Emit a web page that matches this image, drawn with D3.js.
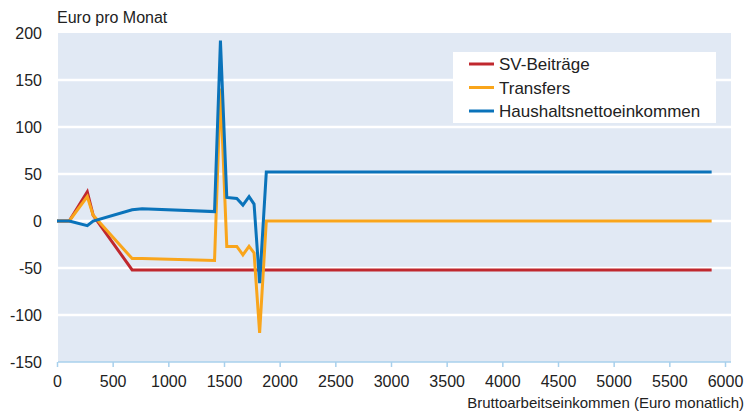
<!DOCTYPE html>
<html>
<head>
<meta charset="utf-8">
<script src="https://cdn.jsdelivr.net/npm/d3@7"></script>
<style>
  body { margin: 0; background: #fff; }
  text { font-family: "Liberation Sans", Arial, sans-serif; fill: #222; }
</style>
</head>
<body>
<svg width="746" height="412"></svg>
<script>
// Bruttoeinkommen (Euro monatlich)
var brutto = [0, 110, 272, 325, 675, 765, 1415, 1468, 1525, 1615, 1670, 1725, 1770, 1820, 1880, 5880];
var svBeitraege = [0, 0, 31, 6, -52, -52, -52, -52, -52, -52, -52, -52, -52, -52, -52, -52];
var transfers = [0, 0, 26, 6, -40, -40, -42, 141, -27, -27, -36, -27, -34, -119, 0, 0];
var netto = [0, 0, -5, 0, 12, 13, 10, 192, 25, 24, 17, 26, 18, -66, 52, 52];

var seriesNames = ['SV-Beiträge', 'Transfers', 'Haushaltsnettoeinkommen'];
var seriesColors = ['#c0282e', '#f9a51b', '#0a73ba'];
var xTicks = [0, 500, 1000, 1500, 2000, 2500, 3000, 3500, 4000, 4500, 5000, 5500, 6000];
var yTicks = [-150, -100, -50, 0, 50, 100, 150, 200];

var svg = d3.select('svg');

var plotLeft = 58, plotRight = 731, plotTop = 33, plotBottom = 362;

var x = d3.scaleLinear().domain([0, 6000]).range([57, 725]);
var y = d3.scaleLinear().domain([-150, 200]).range([plotBottom, plotTop]);

// background
svg.append('rect')
    .attr('x', plotLeft)
    .attr('y', plotTop)
    .attr('width', plotRight - plotLeft)
    .attr('height', plotBottom - plotTop)
    .attr('fill', '#e1e9f4');

// grid
svg.selectAll('.grid')
    .data(yTicks.filter(function(d){ return d > -150 && d < 200 }))
    .enter()
    .append('line')
    .attr('x1', plotLeft)
    .attr('x2', plotRight)
    .attr('y1', function(d){ return y(d) })
    .attr('y2', function(d){ return y(d) })
    .attr('stroke', '#fff')
    .attr('stroke-width', 2.5);

// x axis
var xAxis = svg.append('g')
    .attr('transform', 'translate(0,' + plotBottom + ')')
    .call(d3.axisBottom(x).tickValues(xTicks).tickSize(5).tickPadding(9).tickFormat(d3.format('d')));
xAxis.select('.domain').attr('stroke', '#a8d0ec').attr('stroke-width', 1.5)
    .attr('d', 'M' + plotLeft + ',0H' + plotRight);
xAxis.selectAll('.tick line').attr('stroke', '#a8d0ec').attr('stroke-width', 1.5);
xAxis.selectAll('text').style('font-size', '16px').attr('fill', '#222')
    .style('font-family', '"Liberation Sans", Arial, sans-serif');

// y axis
var yAxis = svg.append('g')
    .attr('transform', 'translate(' + plotLeft + ',0)')
    .call(d3.axisLeft(y).tickValues(yTicks).tickSize(0).tickPadding(16)
        .tickFormat(function(d){ return String(d) }));
yAxis.select('.domain').remove();
yAxis.selectAll('text').style('font-size', '16px').attr('fill', '#222')
    .style('font-family', '"Liberation Sans", Arial, sans-serif');

var allSeries = [svBeitraege, transfers, netto];

var line = d3.line()
    .x(function(d, i){ return x(brutto[i]) })
    .y(function(d){ return y(d) });

svg.selectAll('.series')
    .data(allSeries)
    .enter()
    .append('path')
    .attr('d', function(d){ return line(d) })
    .attr('fill', 'none')
    .attr('stroke', function(d, i){ return seriesColors[i] })
    .attr('stroke-width', 3)
    .attr('stroke-linejoin', 'miter');

// legend
var legend = svg.append('g');
legend.append('rect')
    .attr('x', 453)
    .attr('y', 52)
    .attr('width', 263)
    .attr('height', 71)
    .attr('fill', '#fff');

var rows = legend.selectAll('.row')
    .data(seriesNames)
    .enter()
    .append('g')
    .attr('transform', function(d, i){ return 'translate(0,' + (64 + i * 23.5) + ')' });
rows.append('line')
    .attr('x1', 469)
    .attr('x2', 494)
    .attr('stroke', function(d, i){ return seriesColors[i] })
    .attr('stroke-width', 3);
rows.append('text')
    .attr('x', 499)
    .attr('y', 6)
    .style('font-size', '17px')
    .text(function(d){ return d });

// titles
svg.append('text')
    .attr('x', 57)
    .attr('y', 23)
    .style('font-size', '16px')
    .text('Euro pro Monat');

svg.append('text')
    .attr('x', 744)
    .attr('y', 408)
    .attr('text-anchor', 'end')
    .style('font-size', '15px')
    .text('Bruttoarbeitseinkommen (Euro monatlich)');
</script>
</body>
</html>
